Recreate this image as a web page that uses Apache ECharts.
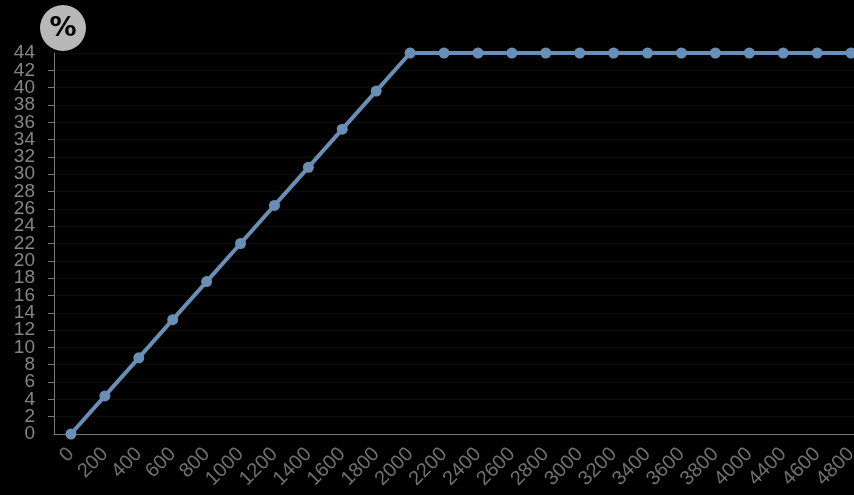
<!DOCTYPE html>
<html>
<head>
<meta charset="utf-8">
<script src="https://cdn.jsdelivr.net/npm/echarts@6/dist/echarts.min.js"></script>
<style>
html,body{margin:0;padding:0;background:#000;overflow:hidden;}
#c{width:868px;height:495px;}
</style>
</head>
<body>
<div id="c"></div>
<script>
var categories = ['0','200','400','600','800','1000','1200','1400','1600','1800','2000','2200','2400','2600','2800','3000','3200','3400','3600','3800','4000','4400','4600','4800'];
var values = [0,4.4,8.8,13.2,17.6,22,26.4,30.8,35.2,39.6,44,44,44,44,44,44,44,44,44,44,44,44,44,44];
var unitLabel = '%';
var yMin = 0, yMax = 44, yStep = 2;

var labelFont = {color: '#858585', fontSize: 19, fontFamily: '"Liberation Sans", Arial, sans-serif'};

var chart = echarts.init(document.getElementById('c'));
chart.setOption({
  backgroundColor: '#000',
  animation: false,
  grid: {left: 54, right: 0, top: 53, bottom: 61, containLabel: false},
  graphic: [
    {type: 'circle', shape: {cx: 63, cy: 28, r: 23}, style: {fill: '#b8b8b8'}, z: 10},
    {type: 'text', x: 63, y: 29, style: {text: unitLabel, fill: '#000', font: 'bold 27px "DejaVu Sans", sans-serif', align: 'center', verticalAlign: 'middle'}, z: 11}
  ],
  xAxis: {
    type: 'category',
    data: categories,
    boundaryGap: true,
    axisLine: {lineStyle: {color: '#777', width: 1}},
    axisTick: {lineStyle: {color: '#777'}, length: 6},
    axisLabel: {rotate: 45, color: '#707070', fontSize: 20, fontFamily: '"Liberation Sans", Arial, sans-serif', interval: 0, margin: 17, hideOverlap: false},
    splitLine: {show: false}
  },
  yAxis: [{
    type: 'value',
    min: yMin, max: yMax, interval: yStep,
    axisLine: {show: true, lineStyle: {color: '#777', width: 1}},
    axisTick: {show: true, lineStyle: {color: '#777'}, length: 6},
    axisLabel: Object.assign({margin: 19, showMinLabel: false, showMaxLabel: false, hideOverlap: false}, labelFont),
    splitLine: {show: true, lineStyle: {color: '#0c0c0c', width: 1}}
  }, {
    type: 'value',
    position: 'left',
    min: yMin, max: yMax, interval: yStep,
    axisLine: {show: false},
    axisTick: {show: false},
    splitLine: {show: false},
    axisLabel: Object.assign({
      margin: 19, hideOverlap: false, showMinLabel: true, showMaxLabel: true,
      formatter: function (v) { return (v === yMin || v === yMax) ? String(v) : ''; }
    }, labelFont)
  }],
  series: [{
    type: 'line',
    yAxisIndex: 0,
    data: values,
    symbol: 'circle',
    symbolSize: 11,
    lineStyle: {color: '#6a8fb7', width: 4},
    itemStyle: {color: '#6a8fb7'}
  }]
});
</script>
</body>
</html>
